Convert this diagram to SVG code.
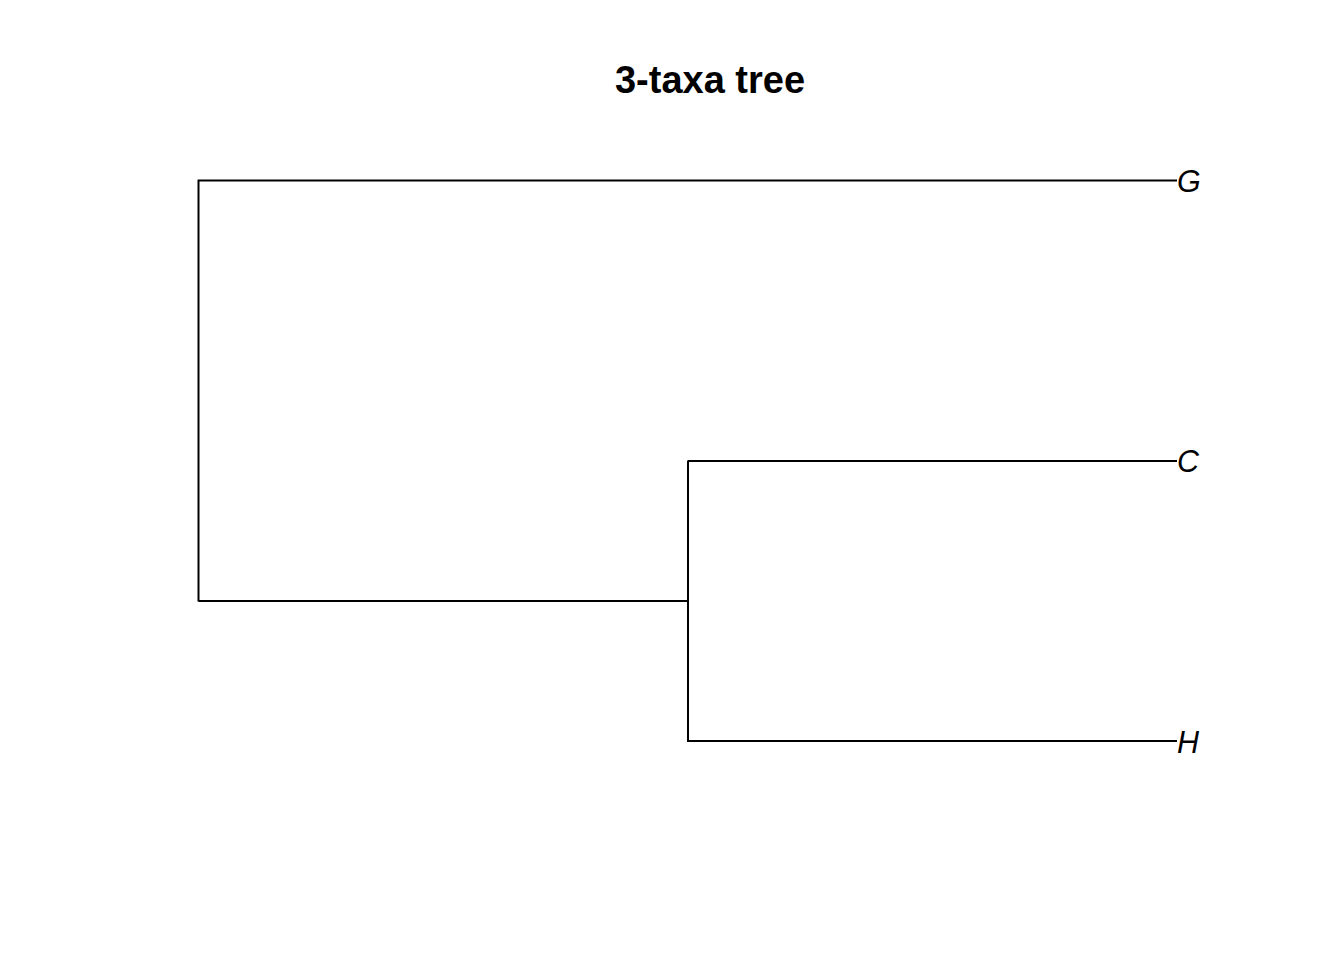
<svg xmlns="http://www.w3.org/2000/svg" width="1344" height="960" viewBox="0 0 1344 960">
<style>
.e{fill:none;stroke:#000;stroke-width:2;stroke-linecap:butt}
.t{font-family:"Liberation Sans",Arial,sans-serif;font-style:italic;font-size:30.5px;fill:#000}
.h{font-family:"Liberation Sans",Arial,sans-serif;font-weight:bold;font-size:38px;fill:#000}
</style>
<rect width="1344" height="960" fill="#fff"/>
<text class="h" x="710" y="93" text-anchor="middle">3-taxa tree</text>
<g id="edges">
<path class="e" d="M198.5,180.5 H1177 M198.5,179.5 V601.5 M198.5,601 H688 M688,460.5 V742 M688,461 H1177 M688,741 H1177"/>
</g>
<g id="G"><text class="t" x="1177" y="192">G</text></g>
<g id="C"><text class="t" x="1177" y="472">C</text></g>
<g id="H"><text class="t" x="1177" y="753">H</text></g>
</svg>
